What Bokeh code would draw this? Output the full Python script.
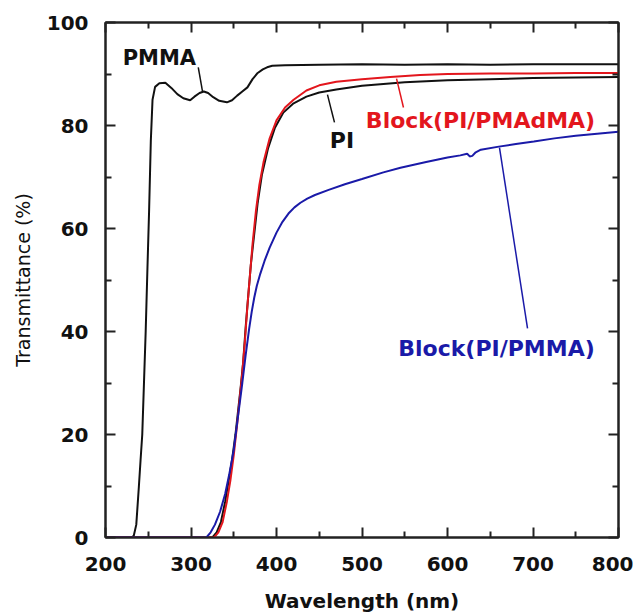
from bokeh.plotting import figure
from bokeh.models import Range1d, LinearAxis, FixedTicker, CustomJSTickFormatter, Label
from bokeh.embed import file_html
from bokeh.resources import INLINE

# ---------------- data ----------------
pmma_wl = [200, 225, 230, 233, 236, 239, 241, 243, 245, 247, 249, 251, 253, 255, 258, 263,
           270, 277, 284, 291, 299, 304, 310, 315, 320, 326, 333, 342, 348, 354, 360, 366,
           372, 378, 384, 389, 395, 410, 450, 500, 550, 600, 650, 700, 750, 800]
pmma_t = [0, 0, 0, 0.3, 2.5, 9.8, 15, 20, 30, 40, 52, 63.5, 77, 85, 87.5, 88.2,
          88.3, 87.3, 86.1, 85.3, 84.9, 85.6, 86.3, 86.6, 86.3, 85.5, 84.8, 84.5, 84.9, 85.8, 86.6, 87.4,
          89.0, 90.2, 90.9, 91.3, 91.6, 91.7, 91.8, 91.9, 91.8, 91.9, 91.8, 91.9, 91.9, 91.9]

pi_wl = [200, 325, 330, 335, 340, 344, 348, 352, 355, 358, 361, 364, 367, 370, 374, 378,
         383, 390, 398, 408, 420, 435, 450, 470, 500, 550, 600, 650, 700, 750, 800]
pi_t = [0, 0, 1, 3, 7, 11, 15, 20, 24.5, 29, 34, 41, 47, 53, 59, 65,
        70.5, 75.5, 79.5, 82.5, 84.3, 85.6, 86.4, 87.0, 87.7, 88.4, 88.8, 89.0, 89.2, 89.3, 89.4]

pmadma_wl = [200, 327, 332, 337, 342, 346, 350, 354, 357, 360, 363, 366, 369, 372, 376, 380,
             385, 392, 400, 410, 420, 435, 450, 470, 500, 533, 568, 600, 650, 700, 750, 800]
pmadma_t = [0, 0, 1, 3, 7, 11, 16, 22, 27, 32, 38, 45, 51, 57, 63.5, 68.5,
            73, 77.5, 81, 83.5, 85, 86.8, 87.8, 88.5, 89.0, 89.4, 89.8, 90.0, 90.1, 90.1, 90.2, 90.2]

pmma_blk_wl = [200, 318, 323, 328, 334, 340, 345, 350, 355, 360, 364, 368, 371, 374, 377, 381,
               386, 392, 400, 407, 414, 421, 428, 436, 445, 461, 480, 500, 525, 545, 575, 600,
               615, 623, 626, 629, 633, 639, 660, 680, 701, 725, 750, 775, 800]
pmma_blk_t = [0, 0, 1, 2.5, 5, 8.5, 12.5, 17, 23.5, 30, 35.5, 40.5, 43.8, 46.6, 48.9, 51.2,
              53.7, 56.3, 59.2, 61.3, 62.9, 64.1, 65.0, 65.8, 66.5, 67.5, 68.6, 69.6, 70.9, 71.8, 72.9, 73.8,
              74.2, 74.5, 74.0, 74.1, 74.8, 75.3, 75.9, 76.4, 76.9, 77.5, 78.0, 78.4, 78.8]

x_ticks = [200, 300, 400, 500, 600, 700, 800]
x_minor = [250, 350, 450, 550, 650, 750]
y_ticks = [0, 20, 40, 60, 80, 100]
y_minor = [10, 30, 50, 70, 90]

RED = "#e3161d"
BLUE = "#1a1aa8"
BOLD = "DejaVu Sans"

p = figure(width=633, height=615, output_backend="svg", toolbar_location=None,
           x_range=Range1d(200, 800), y_range=Range1d(0, 100),
           min_border_left=105, min_border_right=15, min_border_top=22, min_border_bottom=78)
p.background_fill_color = "white"
p.border_fill_color = "white"
p.outline_line_color = "#222222"
p.outline_line_width = 2
p.xgrid.visible = False
p.ygrid.visible = False


def style_axis(ax, ticks, minor, labels=True):
    ax.ticker = FixedTicker(ticks=ticks, minor_ticks=minor)
    ax.axis_line_color = "#222222"
    ax.axis_line_width = 2
    ax.major_tick_line_color = "#222222"
    ax.major_tick_line_width = 2
    ax.minor_tick_line_color = "#222222"
    ax.minor_tick_line_width = 2
    ax.major_tick_in = 10
    ax.major_tick_out = 0
    ax.minor_tick_in = 6
    ax.minor_tick_out = 0
    if labels:
        ax.major_label_text_font = BOLD
        ax.major_label_text_font_style = "bold"
        ax.major_label_text_font_size = "20px"
        ax.major_label_text_color = "#111111"
    else:
        ax.formatter = CustomJSTickFormatter(code="return ''")
        ax.major_label_text_font_size = "1px"
        ax.major_label_standoff = 0


xa = p.xaxis[0]
style_axis(xa, x_ticks, x_minor)
xa.major_label_standoff = 19
xa.axis_label = "Wavelength (nm)"
xa.axis_label_text_font = BOLD
xa.axis_label_text_font_style = "bold"
xa.axis_label_text_font_size = "20px"
xa.axis_label_text_color = "#111111"
xa.axis_label_standoff = 15

ya = p.yaxis[0]
style_axis(ya, y_ticks, y_minor)
ya.major_label_standoff = 17
ya.axis_label = "Transmittance (%)"
ya.axis_label_text_font = "DejaVu Sans"
ya.axis_label_text_font_style = "normal"
ya.axis_label_text_font_size = "19px"
ya.axis_label_text_color = "#111111"
ya.axis_label_standoff = 10

top = LinearAxis()
style_axis(top, x_ticks, x_minor, labels=False)
p.add_layout(top, "above")
right = LinearAxis()
style_axis(right, y_ticks, y_minor, labels=False)
p.add_layout(right, "right")

# ---------------- curves ----------------
p.line(pmma_wl, pmma_t, line_color="#111111", line_width=2)
p.line(pi_wl, pi_t, line_color="#111111", line_width=2)
p.line(pmadma_wl, pmadma_t, line_color=RED, line_width=2)
p.line(pmma_blk_wl, pmma_blk_t, line_color=BLUE, line_width=2)

# ---------------- annotations ----------------
def note(text, x, y, color, size="22px"):
    p.add_layout(Label(x=x, y=y, text=text, text_align="center", text_baseline="middle",
                       text_font=BOLD, text_font_style="bold", text_font_size=size,
                       text_color=color))

note("PMMA", 263, 93.2, "#111111", "21px")
p.line([308.5, 313.5], [91.3, 86.6], line_color="#111111", line_width=1.5)
note("PI", 476.6, 77.0, "#111111")
p.line([459.6, 467.8], [86.0, 80.6], line_color="#111111", line_width=1.5)
note("Block(PI/PMAdMA)", 638.6, 81.0, RED)
p.line([540.4, 548.5], [89.1, 83.5], line_color=RED, line_width=1.5)
note("Block(PI/PMMA)", 657.3, 36.7, BLUE)
p.line([660.8, 693.6], [75.7, 40.6], line_color=BLUE, line_width=1.5)

open("out.html", "w").write(file_html(p, INLINE))
